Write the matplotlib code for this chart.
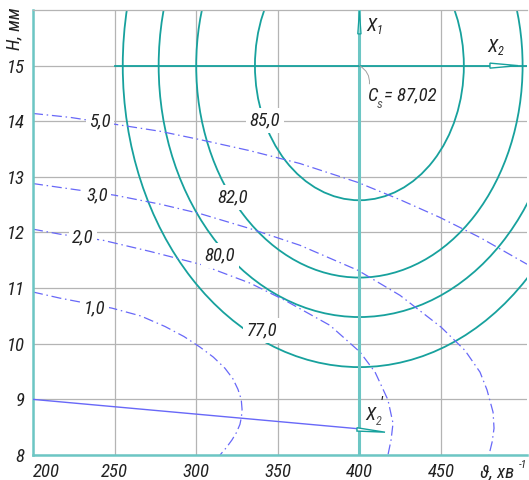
import matplotlib
matplotlib.use('Agg')
import matplotlib.pyplot as plt
from matplotlib import font_manager as fm
from matplotlib.patches import Ellipse, Polygon

# ---------------- data ----------------
x_ticks = [200, 250, 300, 350, 400, 450]
x_tick_labels = ['200', '250', '300', '350', '400', '450']
y_ticks = [8, 9, 10, 11, 12, 13, 14, 15]
y_tick_labels = ['8', '9', '10', '11', '12', '13', '14', '15']
x_lim = (200, 502.7)
y_lim = (8, 16)

# response surface (teal): centre and ellipse semi-axes of each level line
center1 = (400, 15)
levels1 = ['77,0', '80,0', '82,0', '85,0']
semi_x1 = [145, 123, 100, 64]
semi_y1 = [5.42, 4.52, 3.81, 2.42]
lab1_x = [340.3, 314.6, 322.5, 342.2]
lab1_y = [10.24, 11.59, 12.63, 14.01]
cs_text = '87,02'

# second surface (blue dash-dot level lines)
c50_x = [200, 222.7, 251.5, 277.8, 302.3, 333.0, 363.6, 399.1, 424.9, 449.4, 473.9, 502.7]
c50_y = [14.14, 14.07, 13.94, 13.82, 13.67, 13.47, 13.24, 12.90, 12.59, 12.27, 11.91, 11.43]
c30_x = [200, 216.5, 250.2, 277.8, 302.3, 333.0, 363.6, 399.1, 424.9, 450.0, 464.7, 473.9,
         478.2, 481.9, 482.5, 481.3, 479.4]
c30_y = [12.88, 12.81, 12.67, 12.51, 12.34, 12.07, 11.77, 11.32, 10.87, 10.30, 9.88, 9.49,
         9.17, 8.77, 8.48, 8.23, 8.0]
c20_x = [200, 216.5, 242.9, 271.7, 302.3, 333.0, 354.4, 382.0, 400.4, 409.6, 417.5, 420.6,
         419.4, 417.5]
c20_y = [12.06, 11.97, 11.86, 11.66, 11.43, 11.09, 10.78, 10.33, 9.85, 9.49, 8.99, 8.57,
         8.27, 8.0]
c10_x = [200, 216.5, 248.4, 266.0, 280.9, 292.5, 302.3, 310.5, 317.6, 322.5, 325.6, 327.6,
         328.1, 327.7, 326.8, 324.6, 321.9, 318.4, 314.6]
c10_y = [10.93, 10.82, 10.64, 10.50, 10.31, 10.13, 9.94, 9.76, 9.56, 9.37, 9.18, 9.00,
         8.82, 8.68, 8.55, 8.40, 8.27, 8.13, 8.0]
blue_levels = ['5,0', '3,0', '2,0', '1,0']
blue_lab_x = [241.0, 239.2, 230.6, 238.0]
blue_lab_y = [13.99, 12.67, 11.91, 10.64]

# axes of the surfaces
x1_axis_x = [400, 400]
x1_axis_y = [8, 16]
x1_arrow_x = [399.0, 401.0, 400.0]
x1_arrow_y = [15.57, 15.57, 15.98]
x2_axis_x = [250, 502.7]
x2_axis_y = [15, 15]
x2_arrow_x = [480.0, 480.0, 497.2]
x2_arrow_y = [15.045, 14.955, 15.0]
x2p_axis_x = [200, 400]
x2p_axis_y = [9.0, 8.47]
x2p_arrow_x = [398.5, 398.5, 415.7]
x2p_arrow_y = [8.49, 8.43, 8.41]

# ---------------- style ----------------
names = {f.name for f in fm.fontManager.ttflist}
narrow = None
for cand in ['Liberation Sans Narrow', 'Roboto Condensed', 'Open Sans Condensed',
             'Noto Sans Condensed', 'DejaVu Sans Condensed']:
    if cand in names:
        narrow = cand
        break
has_cond_dejavu = any(f.name == 'DejaVu Sans' and f.stretch in ('condensed', 'semi-condensed')
                      for f in fm.fontManager.ttflist)
if narrow:
    plt.rcParams['font.family'] = [narrow, 'DejaVu Sans']
    FS = 13.5
elif has_cond_dejavu:
    plt.rcParams['font.family'] = ['DejaVu Sans']
    plt.rcParams['font.stretch'] = 'condensed'
    FS = 13
else:
    plt.rcParams['font.family'] = ['DejaVu Sans']
    FS = 11.5
plt.rcParams['font.style'] = 'italic'

TEAL = '#17a19d'
TEAL_L = '#6cc6c4'
BLUE = '#6868f8'
GRID = '#b4b4b4'
TXT = '#222222'

fig = plt.figure(figsize=(5.29, 4.80), dpi=100)
ax = fig.add_axes([33 / 529, 1 - 455 / 480, 494 / 529, 445 / 480])
ax.set_xlim(*x_lim)
ax.set_ylim(*y_lim)
ax.set_xticks(x_ticks, x_tick_labels)
ax.set_yticks(y_ticks, y_tick_labels)
ax.tick_params(length=0, labelsize=FS, colors=TXT)
ax.tick_params(axis='x', pad=5.5)
ax.tick_params(axis='y', pad=6)
ax.get_xticklabels()[0].set_horizontalalignment('left')
ax.grid(True, color=GRID, lw=0.9, zorder=0)
ax.set_axisbelow(True)
for s in ['left', 'bottom']:
    ax.spines[s].set_color(TEAL_L)
    ax.spines[s].set_linewidth(1.8)
ax.spines['top'].set_color(GRID)
ax.spines['top'].set_linewidth(0.9)
ax.spines['right'].set_visible(False)

# teal ellipses
for sx, sy in zip(semi_x1, semi_y1):
    ax.add_patch(Ellipse(center1, 2 * sx, 2 * sy, fill=False, edgecolor=TEAL, lw=1.3, zorder=2))

# blue dash-dot lines
for xs, ys in [(c50_x, c50_y), (c30_x, c30_y), (c20_x, c20_y), (c10_x, c10_y)]:
    ax.plot(xs, ys, color=BLUE, lw=0.9, dashes=(8, 3, 1.2, 3), zorder=2)

# axes of surfaces
ax.plot(x1_axis_x, x1_axis_y, color=TEAL_L, lw=2.2, zorder=3)
ax.add_patch(Polygon(list(zip(x1_arrow_x, x1_arrow_y)), closed=True, facecolor='#9fdcda',
                     edgecolor=TEAL, lw=0.9, zorder=4))
ax.plot(x2_axis_x, x2_axis_y, color=TEAL, lw=1.3, zorder=3)
ax.add_patch(Polygon(list(zip(x2_arrow_x, x2_arrow_y)), closed=True, facecolor='white',
                     edgecolor=TEAL, lw=1.0, zorder=4))
ax.plot(x2p_axis_x, x2p_axis_y, color=BLUE, lw=1.0, zorder=3)
ax.add_patch(Polygon(list(zip(x2p_arrow_x, x2p_arrow_y)), closed=True, facecolor='white',
                     edgecolor=TEAL, lw=1.0, zorder=4))

box = dict(facecolor='white', edgecolor='none', pad=2.5)
for t, x, y in zip(levels1, lab1_x, lab1_y):
    ax.text(x, y, t, fontsize=FS, color=TXT, ha='center', va='center', bbox=box, zorder=5)
for t, x, y in zip(blue_levels, blue_lab_x, blue_lab_y):
    ax.text(x, y, t, fontsize=FS, color=TXT, ha='center', va='center', bbox=box, zorder=5)

# C_s label: "C" with subscript drawn as plain texts
ann = ax.annotate('C', xy=center1, xytext=(405.3, 14.46), fontsize=FS, color=TXT,
                  ha='left', va='center', zorder=5,
                  arrowprops=dict(arrowstyle='-', color='#a0a0a0', lw=0.7, shrinkA=0, shrinkB=0,
                                  relpos=(0.1, 1.0), connectionstyle='arc3,rad=0.35'))
ax.text(410.8, 14.31, 's', fontsize=FS * 0.7, color='#555555', ha='left', va='center', zorder=5)
ax.text(415.0, 14.46, '= ' + cs_text, fontsize=FS, color=TXT, ha='left', va='center', zorder=5)

ax.text(404.3, 15.72, 'X', fontsize=FS, color=TXT, ha='left', va='center', zorder=5)
ax.text(410.6, 15.63, '1', fontsize=FS * 0.65, color=TXT, ha='left', va='center', zorder=5)
ax.text(478.5, 15.34, 'X', fontsize=FS, color=TXT, ha='left', va='center', zorder=5)
ax.text(484.8, 15.25, '2', fontsize=FS * 0.65, color=TXT, ha='left', va='center', zorder=5)
ax.text(403.8, 8.72, 'X', fontsize=FS, color=TXT, ha='left', va='center', zorder=5)
ax.text(412.6, 8.92, "'", fontsize=FS * 0.9, color=TXT, ha='left', va='center', zorder=5)
ax.text(410.0, 8.60, '2', fontsize=FS * 0.65, color='#555555', ha='left', va='center', zorder=5)

fig.text(14 / 529, 1 - 29 / 480, 'H, мм', rotation=90, fontsize=FS, color=TXT,
         ha='center', va='center')
fig.text(480 / 529, 1 - 472 / 480, 'ϑ, хв', fontsize=FS, color=TXT, ha='left', va='center')
fig.text(519 / 529, 1 - 465 / 480, '-1', fontsize=FS * 0.6, color=TXT, ha='left', va='center')

fig.savefig('out.png', dpi=100)
